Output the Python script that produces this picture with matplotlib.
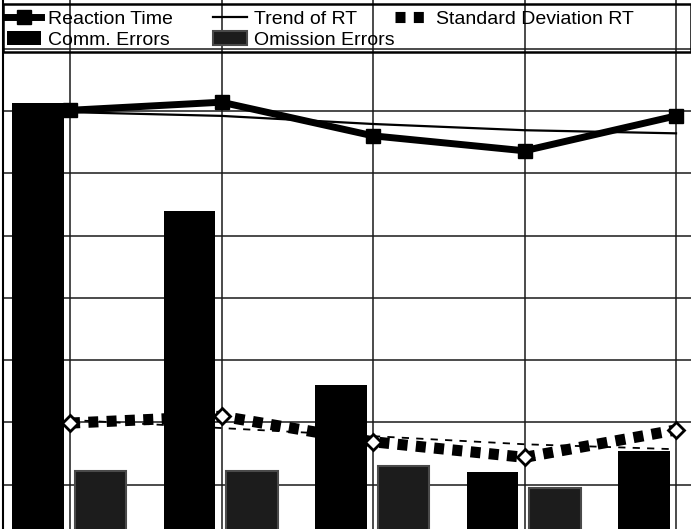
import matplotlib
matplotlib.use("Agg")
import matplotlib.pyplot as plt
from matplotlib.patches import Rectangle

plt.rcParams['font.family'] = ['Liberation Sans', 'DejaVu Sans']

# values (arbitrary units, gridlines every 10)
sessions = [0, 1, 2, 3, 4]
reaction_time = [70.1, 71.4, 66.0, 63.6, 69.2]
trend_rt = [69.8, 69.2, 67.9, 66.9, 66.4]
sd_rt = [19.9, 21.0, 16.9, 14.4, 18.8]
trend_sd = [20.4, 19.1, 17.8, 16.5, 15.7]
comm_errors = [71.3, 53.9, 26.0, 12.0, 15.4]
omission_errors = [12.2, 12.2, 13.0, 9.5, 0.0]

fig = plt.figure(figsize=(6.91, 5.29), dpi=100)
ax = fig.add_axes([0.004, 0, 0.996, 1])

bw = 0.34
xs_c = [s - 0.21 for s in sessions]
xs_o = [s + 0.2 for s in sessions]
b1 = ax.bar(xs_c, comm_errors, width=bw, color='black', zorder=2)
b2 = ax.bar(xs_o, omission_errors, width=bw, color='#1c1c1c', edgecolor='#4a4a4a',
            linewidth=1.5, zorder=2)

l_trend, = ax.plot(sessions, trend_rt, color='black', lw=1.6, zorder=3)
l_rt, = ax.plot(sessions, reaction_time, color='black', lw=5, marker='s', ms=10, zorder=4)

ax.plot(sessions, trend_sd, color='black', lw=1.3, dashes=(4, 4), zorder=3)
l_sd, = ax.plot(sessions, sd_rt, color='black', lw=8, dashes=(0.9, 0.75),
                dash_capstyle='butt', zorder=4)
ax.plot(sessions, sd_rt, ls='none', marker='D', ms=8, mfc='white', mec='black',
        mew=2, zorder=5)

ax.set_xlim(-0.444, 4.099)
ax.set_ylim(2.9, 87.8)
ax.set_xticks(sessions)
ax.set_yticks(range(10, 90, 10))
ax.tick_params(length=0, labelbottom=False, labelleft=False)
ax.grid(True, color='#1a1a1a', lw=1.1, zorder=1)
ax.set_axisbelow(True)
for side in ['top', 'right', 'bottom']:
    ax.spines[side].set_visible(False)
ax.spines['left'].set_linewidth(1.5)

# legend box drawn across the top, three column groups inside it
ax.add_patch(Rectangle((0, 1 - 52 / 529), 1.0, 48 / 529, transform=ax.transAxes,
                       facecolor='none', edgecolor='black', lw=1.8, zorder=6, clip_on=False))

legend_cols = [
    ([l_rt, b1], ['Reaction Time', 'Comm. Errors'], 3),
    ([l_trend, b2], ['Trend of RT', 'Omission Errors'], 209),
    ([l_sd], ['Standard Deviation RT'], 391),
]
for handles, labels, px in legend_cols:
    leg = fig.legend(handles, labels, loc='upper left',
                     bbox_to_anchor=(px / 691, 1 - 6 / 529),
                     frameon=False, fontsize=14, handlelength=1.75, handletextpad=0.35,
                     labelspacing=0.2, borderpad=0.2, borderaxespad=0)
    leg.set_zorder(7)

fig.savefig('out.png', dpi=100)
